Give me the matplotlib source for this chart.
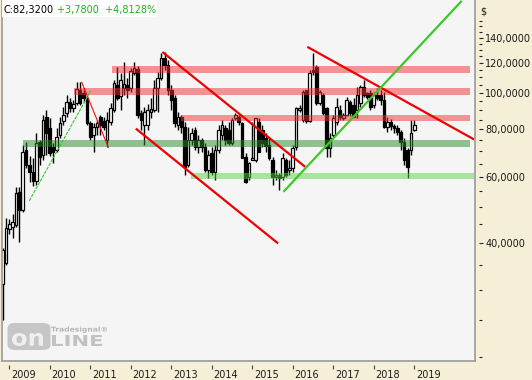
import numpy as np
import matplotlib
matplotlib.use("Agg")
import matplotlib.pyplot as plt
from matplotlib.patches import Rectangle, FancyBboxPatch, PathPatch
from matplotlib.ticker import FixedLocator, FuncFormatter, NullFormatter
from matplotlib.textpath import TextPath
from matplotlib.font_manager import FontProperties
import matplotlib.transforms as mtransforms

# ---------------- data (monthly candles, starting Nov 2008) ----------------
start_year, start_month = 2008, 11
opens = [31.2, 35.4, 43.6, 44.2, 44.7, 54.7, 49.0, 70.6, 64.4, 61.8,
         58.4, 74.1, 68.5, 86.4, 80.7, 71.9, 70.6, 77.3, 84.2, 88.5,
         94.6, 91.2, 94.0, 101.8, 99.9, 96.9, 83.2, 77.3, 81.2, 86.4,
         84.2, 75.0, 83.7, 90.1, 104.9, 98.1, 103.0, 104.9, 103.0, 112.9,
         115.7, 88.5, 82.2, 82.2, 89.0, 90.1, 103.0, 109.5, 123.7, 118.5,
         101.8, 96.9, 82.2, 86.4, 81.2, 64.4, 75.0, 79.7, 71.9, 75.0,
         71.9, 62.5, 69.3, 61.8, 70.6, 77.3, 80.7, 79.7, 73.7, 85.8,
         86.4, 83.2, 67.7, 59.9, 66.4, 66.4, 83.7, 79.7, 75.9, 72.8,
         66.4, 59.9, 60.6, 59.9, 66.4, 62.5, 63.2, 71.9, 90.1, 84.8,
         101.8, 84.2, 115.0, 117.1, 94.0, 98.7, 91.2, 71.5, 77.3, 83.7,
         90.1, 85.8, 87.4, 94.6, 92.9, 90.1, 94.0, 103.6, 99.9, 99.9,
         92.9, 98.7, 98.7, 95.7, 81.2, 83.7, 81.7, 80.7, 78.7, 74.1,
         70.6, 70.6, 79.7]
closes = [38.4, 43.9, 45.0, 45.5, 54.3, 49.0, 69.8, 64.4, 61.8, 58.4,
          73.7, 67.7, 84.8, 78.3, 69.3, 69.8, 76.3, 83.2, 87.4, 94.6,
          91.2, 93.4, 102.4, 94.0, 96.9, 83.2, 76.3, 81.2, 83.2, 82.2,
          81.2, 84.8, 91.2, 106.2, 96.9, 108.2, 105.5, 101.8, 114.3, 116.4,
          87.4, 84.8, 89.0, 90.1, 90.7, 103.0, 109.5, 123.7, 118.5, 101.8,
          95.7, 83.2, 86.4, 81.2, 63.6, 75.0, 78.3, 71.9, 75.0, 71.9,
          62.5, 68.5, 61.8, 70.6, 79.7, 82.2, 75.0, 73.7, 84.8, 87.4,
          83.7, 67.3, 58.1, 65.2, 67.3, 85.8, 69.8, 73.7, 72.4, 67.3,
          59.9, 60.6, 59.5, 67.3, 60.6, 63.2, 71.5, 91.2, 91.2, 100.6,
          84.2, 112.9, 113.6, 94.0, 100.6, 88.5, 71.5, 75.9, 85.8, 91.8,
          86.4, 87.4, 95.7, 88.5, 86.4, 98.7, 103.6, 98.7, 97.5, 91.8,
          98.7, 96.9, 95.7, 81.2, 83.7, 81.7, 80.7, 78.7, 74.1, 66.4,
          63.6, 78.54, 82.32]
highs = [38.8, 46.7, 46.4, 47.8, 56.3, 56.3, 72.8, 74.1, 68.1, 67.3,
         78.3, 75.0, 87.4, 90.1, 85.8, 73.7, 80.7, 86.4, 91.8, 98.7,
         96.9, 95.7, 106.8, 106.8, 103.0, 98.1, 84.2, 83.2, 84.8, 87.4,
         86.4, 89.0, 94.0, 108.2, 117.1, 112.9, 120.7, 109.5, 116.4, 120.7,
         117.8, 90.1, 91.8, 93.4, 96.9, 108.2, 113.6, 127.5, 128.3, 122.2,
         104.9, 98.7, 89.0, 87.4, 83.7, 81.2, 80.7, 81.2, 77.3, 75.9,
         73.7, 70.6, 71.9, 72.8, 82.2, 84.8, 82.2, 83.7, 85.8, 88.5,
         87.4, 83.7, 69.3, 65.6, 83.7, 85.8, 85.8, 82.2, 78.3, 76.3,
         67.7, 62.5, 61.4, 69.3, 67.3, 66.4, 72.8, 91.8, 92.9, 101.8,
         101.8, 115.0, 127.5, 118.5, 101.8, 99.9, 91.8, 78.3, 87.4, 96.9,
         92.9, 88.5, 97.5, 95.7, 96.9, 103.6, 104.9, 108.2, 100.6, 101.8,
         100.6, 103.0, 101.8, 100.6, 86.4, 85.3, 82.7, 82.2, 79.7, 75.9,
         71.5, 84.8, 84.8]
lows = [25.0, 35.0, 42.3, 41.3, 44.2, 40.3, 48.4, 63.2, 58.1, 56.7,
        57.0, 64.4, 66.4, 68.5, 68.1, 65.2, 69.8, 75.9, 82.2, 86.4,
        89.0, 89.0, 92.9, 92.9, 94.6, 82.2, 75.0, 69.8, 77.3, 77.3,
        79.7, 71.9, 82.2, 89.0, 95.7, 90.1, 98.7, 96.9, 100.6, 111.5,
        85.8, 79.7, 72.8, 79.7, 85.8, 89.0, 89.0, 108.2, 115.0, 98.7,
        90.1, 81.2, 79.7, 78.3, 60.6, 63.6, 72.8, 70.6, 69.3, 69.8,
        61.8, 59.5, 60.6, 58.8, 69.3, 75.0, 72.8, 72.8, 72.8, 84.8,
        82.2, 67.3, 57.7, 58.8, 66.4, 65.6, 69.8, 71.9, 69.8, 66.4,
        57.0, 58.8, 55.3, 58.8, 59.9, 60.6, 61.8, 70.6, 89.0, 83.7,
        83.2, 83.7, 111.5, 92.9, 92.9, 87.4, 67.7, 67.7, 76.3, 82.2,
        84.8, 84.8, 86.9, 86.9, 86.4, 85.8, 91.8, 97.5, 96.3, 90.1,
        91.2, 95.7, 92.9, 80.7, 78.7, 79.7, 78.3, 77.3, 70.6, 64.4,
        59.5, 68.5, 79.2]

year_ticks = list(range(2009, 2020))
y_major = [40, 60, 80, 100, 120, 140]

# horizontal zones: (low, high, x_start, x_end)
red_zones = [(112.9, 117.5, 2011.54, 2020.375),
             (98.7, 102.8, 2010.60, 2020.375),
             (84.3, 87.4, 2013.24, 2020.375)]
green_dark_zone = (72.1, 75.0, 2009.34, 2020.375)
green_light_zone = (59.2, 61.3, 2013.49, 2020.47)

# trend lines: (x0, p0, x1, p1)
thin_red = (2010.788, 106.7, 2011.444, 71.8)
thin_green = (2009.494, 51.8, 2011.010, 101.2)
thick_red = [(2012.802, 127.8, 2016.284, 64.0),
             (2012.146, 80.1, 2015.617, 40.1),
             (2016.383, 132.0, 2020.457, 75.5)]
thick_green = (2015.79, 55.0, 2020.153, 174.4)

header_close = "C:82,3200"
header_change = "+3,7800  +4,8128%"

# ---------------- figure ----------------
W, H = 532, 380
fig = plt.figure(figsize=(W / 100, H / 100), dpi=100, facecolor="#F6EFD8")
ax = fig.add_axes([2 / W, (H - 360.5) / H, 473 / W, 360.5 / H])
ax.set_facecolor("#F5F5F5")
ax.set_yscale("log")
ax.set_xlim(2008.82, 2020.50)
ax.set_ylim(19.56, 176.2)

for s in ax.spines.values():
    s.set_visible(False)
# border lines
for xs_, ys_ in [([0, 0], [0, 1]), ([1, 1], [0, 1]), ([0, 1], [0, 0])]:
    ax.plot(xs_, ys_, transform=ax.transAxes, color="#9A9A9A", lw=1.2,
            clip_on=False, zorder=10)

ax.spines["right"].set_position(("outward", 3))
ax.spines["bottom"].set_position(("outward", 3))

# candles
o = np.array(opens); c = np.array(closes); h = np.array(highs); l = np.array(lows)
n = len(o)
xs = start_year + (np.arange(n) + start_month - 1) / 12.0
up = c >= o
ax.vlines(xs, l, h, color="black", lw=1.0, zorder=2)
bw = 0.066
ax.bar(xs[up], (c - o)[up], bottom=o[up], width=bw, facecolor="white",
       edgecolor="black", lw=0.9, zorder=3)
ax.bar(xs[~up], (o - c)[~up], bottom=c[~up], width=bw, facecolor="black",
       edgecolor="black", lw=0.9, zorder=3)

# zones
for lo, hi, x0, x1 in red_zones:
    ax.fill_between([x0, x1], lo, hi, color="#F03030", alpha=0.5, lw=0, zorder=4)
lo, hi, x0, x1 = green_dark_zone
ax.fill_between([x0, x1], lo, hi, color="#2A8C2A", alpha=0.5, lw=0, zorder=4)
lo, hi, x0, x1 = green_light_zone
ax.fill_between([x0, x1], lo, hi, color="#5AD74B", alpha=0.5, lw=0, zorder=4)

# trend lines
x0, p0, x1, p1 = thin_red
ax.plot([x0, x1], [p0, p1], color="#F01010", lw=0.8, zorder=5)
x0, p0, x1, p1 = thin_green
ax.plot([x0, x1], [p0, p1], color="#30C830", lw=0.8, ls=(0, (3, 1)), zorder=5)
for x0, p0, x1, p1 in thick_red:
    ax.plot([x0, x1], [p0, p1], color="#F00000", lw=1.6, zorder=5)
x0, p0, x1, p1 = thick_green
ax.plot([x0, x1], [p0, p1], color="#3CC828", lw=1.6, zorder=5)

# y axis (right)
ax.yaxis.tick_right()
ax.yaxis.set_major_locator(FixedLocator(y_major))
ax.yaxis.set_major_formatter(FuncFormatter(lambda v, p: f"{v:.4f}".replace(".", ",")))
minor = [v for v in range(20, 160, 5) if v not in y_major]
ax.yaxis.set_minor_locator(FixedLocator(minor))
ax.yaxis.set_minor_formatter(NullFormatter())
ax.tick_params(axis="y", which="major", length=3, width=0.8, color="#222222",
               pad=1.5, labelsize=7, labelcolor="#1A1A1A")
ax.tick_params(axis="y", which="minor", length=2.5, width=0.8, color="#222222")

# x axis
ax.set_xticks(year_ticks)
ax.set_xticklabels([str(y) for y in year_ticks])
ax.xaxis.set_minor_locator(FixedLocator([]))
ax.tick_params(axis="x", which="major", length=3, width=0.8, color="#444444",
               pad=0.5, labelsize=7, labelcolor="#1A1A1A")
offset = mtransforms.ScaledTranslation(1.5 / 100, 0, fig.dpi_scale_trans)
for lab in ax.get_xticklabels():
    lab.set_horizontalalignment("left")
    lab.set_transform(lab.get_transform() + offset)

# "$" label
fig.text(480 / W, 1 - 11 / H, "$", fontsize=7, color="#1A1A1A", va="center", ha="left")

# header
fig.patches.append(Rectangle((2 / W, 1 - 17 / H), 155 / W, 17 / H,
                             transform=fig.transFigure, facecolor="white",
                             edgecolor="none", zorder=20))
fig.text(3 / W, 1 - 10.5 / H, header_close, fontsize=7, color="black",
         va="center", ha="left", zorder=21)
fig.text(57 / W, 1 - 10.5 / H, header_change, fontsize=7, color="#1EAF1E",
         va="center", ha="left", zorder=21)

# watermark (logo), text stretched to fit pixel boxes
fig.patches.append(FancyBboxPatch((7.5 / W, 1 - 350 / H), 43 / W, 27 / H,
                                  boxstyle="round,pad=0,rounding_size=0.014",
                                  transform=fig.transFigure, facecolor="#C6C6C6",
                                  edgecolor="none", zorder=1.5))
bold = FontProperties(family="DejaVu Sans", weight="bold")


def stretched_text(s, x0, y_top, w, h, color):
    tp = TextPath((0, 0), s, size=10, prop=bold)
    ext = tp.get_extents()
    sx = w / ext.width
    sy = h / ext.height
    tr = (mtransforms.Affine2D()
          .translate(-ext.x0, -ext.y0)
          .scale(sx / 100.0, sy / 100.0)
          .translate(x0 / 100.0, (H - y_top - h) / 100.0)
          + fig.dpi_scale_trans)
    fig.patches.append(PathPatch(tp, transform=tr, facecolor=color,
                                 edgecolor="none", zorder=21))


stretched_text("on", 12, 333, 31, 13, "#EFEFEF")
stretched_text("LINE", 52, 335, 50, 11, "#C2C2C2")
stretched_text("Tradesignal\u00ae", 51, 326.5, 56, 6.5, "#B5B5B5")

fig.savefig("out.png", dpi=100, facecolor=fig.get_facecolor())
